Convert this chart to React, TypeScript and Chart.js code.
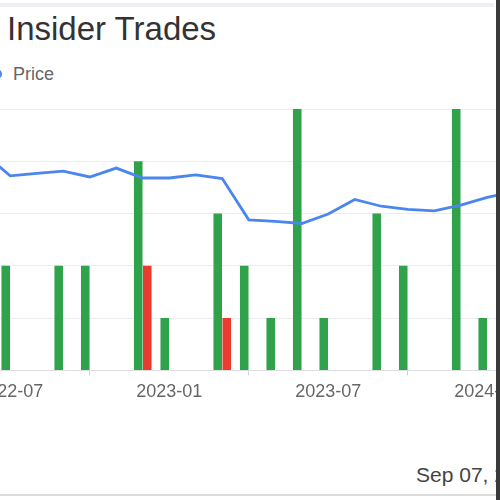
import { useEffect, useRef } from 'react';
import { Chart, registerables } from 'chart.js';

Chart.register(...registerables);

const months = [
  '2022-06', '2022-07', '2022-08', '2022-09', '2022-10', '2022-11', '2022-12',
  '2023-01', '2023-02', '2023-03', '2023-04', '2023-05', '2023-06', '2023-07',
  '2023-08', '2023-09', '2023-10', '2023-11', '2023-12', '2024-01', '2024-02',
];
const buys = [null, 2, null, 2, 2, null, 4, 1, null, 3, 2, 1, 5, 1, null, 3, 2, null, 5, 1, null];
const sells = [null, null, null, null, null, null, 2, null, null, 1, null, null, null, null, null, null, null, null, null, null, null];
const prices = [
  41.5, 37.2, 37.7, 38.1, 37.0, 38.7, 36.8, 36.8, 37.4, 36.7, 28.8, 28.5, 28.1,
  29.9, 32.7, 31.4, 30.8, 30.5, 31.6, 33.1, 34.2,
];

const FONT = '"Liberation Sans", Arial, sans-serif';

export default function App() {
  const canvasRef = useRef<HTMLCanvasElement | null>(null);

  useEffect(() => {
    if (!canvasRef.current) return;
    Chart.defaults.font.family = FONT;

    const chart = new Chart(canvasRef.current, {
      type: 'bar',
      data: {
        labels: months,
        datasets: [
          {
            type: 'line',
            label: 'Price',
            data: prices,
            yAxisID: 'y1',
            borderColor: '#4a86ee',
            borderWidth: 2.8,
            pointRadius: 0,
            tension: 0,
            order: 0,
          },
          {
            label: 'Buy',
            data: buys,
            backgroundColor: '#2fa24a',
            categoryPercentage: 0.68,
            barPercentage: 0.95,
            order: 1,
          },
          {
            label: 'Sell',
            data: sells,
            backgroundColor: '#ea3b2e',
            categoryPercentage: 0.68,
            barPercentage: 0.95,
            order: 1,
          },
        ],
      },
      options: {
        animation: false,
        responsive: true,
        maintainAspectRatio: false,
        layout: { padding: { top: 109, left: 0, right: 0, bottom: 0 } },
        plugins: {
          legend: { display: false },
          title: { display: false },
          tooltip: { enabled: false },
        },
        scales: {
          x: {
            min: '2022-07',
            border: { display: true, color: '#dcdce2', width: 1 },
            grid: { drawOnChartArea: false, drawTicks: true, tickLength: 5, color: '#d0d0d6' },
            ticks: {
              autoSkip: false,
              maxRotation: 0,
              padding: 6,
              color: '#666',
              font: { size: 18 },
              callback(value) {
                const label = this.getLabelForValue(value as number);
                return label.endsWith('-01') || label.endsWith('-07') ? label : null;
              },
            },
            afterFit(scale) {
              scale.paddingLeft = 0;
              scale.paddingRight = 0;
            },
          },
          y: {
            min: 0,
            max: 5,
            border: { display: false },
            grid: { color: '#ececf0', drawTicks: false },
            ticks: { display: false, stepSize: 1 },
          },
          y1: {
            display: false,
            min: 0,
            max: 50,
          },
        },
      },
    });

    return () => {
      chart.destroy();
    };
  }, []);

  return (
    <div
      style={{
        position: 'fixed',
        left: 0,
        top: 0,
        width: 500,
        height: 500,
        overflow: 'hidden',
        background: '#fff',
        fontFamily: FONT,
      }}
    >
      <div style={{ position: 'absolute', left: 0, top: 3, width: 494, height: 4, background: '#efeff3' }} />
      <div
        style={{
          position: 'absolute',
          left: 7,
          top: 12,
          fontSize: 33,
          lineHeight: '33px',
          color: '#333',
          whiteSpace: 'nowrap',
        }}
      >
        Insider Trades
      </div>
      <div style={{ position: 'absolute', left: -8, top: 69, width: 10, height: 10, borderRadius: 5, background: '#4a86ee' }} />
      <div
        style={{
          position: 'absolute',
          left: 13,
          top: 65,
          fontSize: 18,
          lineHeight: '18px',
          color: '#666',
          whiteSpace: 'nowrap',
        }}
      >
        Price
      </div>
      {/* the picture is a crop: the plot runs past both side edges */}
      <div style={{ position: 'absolute', left: -3, top: 0, width: 530, height: 409 }}>
        <canvas ref={canvasRef} />
      </div>
      <div
        style={{
          position: 'absolute',
          left: 416,
          top: 464,
          fontSize: 21,
          lineHeight: '21px',
          color: '#444',
          whiteSpace: 'nowrap',
        }}
      >
        Sep 07, 2024
      </div>
      <div style={{ position: 'absolute', left: 0, top: 494, width: 496, height: 2, background: '#dcdcdc' }} />
      <div style={{ position: 'absolute', left: 496, top: 0, width: 4, height: 500, background: '#3a3a3a' }} />
    </div>
  );
}
